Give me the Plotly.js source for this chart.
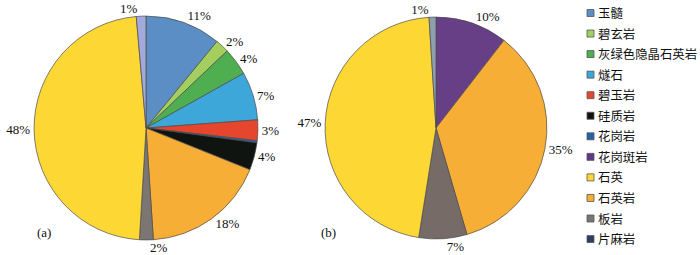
<!DOCTYPE html>
<html><head><meta charset="utf-8">
<script src="https://cdn.plot.ly/plotly-3.0.1.min.js"></script>
<style>html,body{margin:0;padding:0;background:#fff}</style>
</head><body>
<div id="chart" style="width:700px;height:255px"></div>
<script>
// Legend categories
const legendLabels = ['玉髓','碧玄岩','灰绿色隐晶石英岩','燧石','碧玉岩','硅质岩','花岗岩','花岗斑岩','石英','石英岩','板岩','片麻岩'];
const legendColors = ['#5B8EC4','#A4CF5E','#4EAE50','#3DA7D9','#E5462D','#101410','#2464A6','#5E3B86','#FDD835','#F6AE36','#7B7673','#2E3C66'];

// Pie (a), clockwise from 12 o'clock
const labelsA = ['玉髓','碧玄岩','灰绿色隐晶石英岩','燧石','碧玉岩','花岗岩','硅质岩','石英岩','板岩','石英','片麻岩'];
const valuesA = [11,2,4,7,3,0.3,4,18,2,48,1.4];
const textA   = ['11%','2%','4%','7%','3%','','4%','18%','2%','48%','1%'];
const colorsA = ['#5B8EC4','#A4CF5E','#4EAE50','#3DA7D9','#E5462D','#2464A6','#101410','#F6AE36','#7B7673','#FDD835','#A3A9DA'];

// Pie (b)
const labelsB = ['花岗斑岩','石英岩','板岩','石英','片麻岩'];
const valuesB = [10.5,35,7,46.5,1];
const textB   = ['10%','35%','7%','47%','1%'];
const colorsB = ['#663F86','#F6AE36','#776B68','#FDD835','#8E9DAF'];

const pieCommon = {
  type:'pie', sort:false, direction:'clockwise', rotation:0,
  textinfo:'text', textposition:'outside', showlegend:false, hoverinfo:'label+text',
  outsidetextfont:{family:'Liberation Serif, Times New Roman, serif', size:13, color:'#111'},
  automargin:false
};

const traces = [
  Object.assign({}, pieCommon, {
    labels:labelsA, values:valuesA, text:textA,
    marker:{colors:colorsA, line:{color:'#4a4a4a', width:0.7}},
    domain:{x:[0.0486,0.3686], y:[0.059,0.937]}
  }),
  Object.assign({}, pieCommon, {
    labels:labelsB, values:valuesB, text:textB,
    marker:{colors:colorsB, line:{color:'#4a4a4a', width:0.7}},
    domain:{x:[0.4643,0.7814], y:[0.063,0.933]}
  })
];

// Manual legend built from the legend arrays
const W = 700, H = 255;
const shapes = [], annotations = [];
const legX0 = 587, legY0 = 13, legStep = 20.55, box = 7;
legendLabels.forEach((lab, i) => {
  const cy = legY0 + i * legStep;
  shapes.push({type:'rect', xref:'paper', yref:'paper',
    x0: legX0 / W, x1: (legX0 + box) / W,
    y0: 1 - (cy + box/2) / H, y1: 1 - (cy - box/2) / H,
    fillcolor: legendColors[i], line:{color:'#555', width:0.8}});
  annotations.push({xref:'paper', yref:'paper', x:(legX0 + box + 2) / W, y: 1 - cy / H,
    xanchor:'left', yanchor:'middle', showarrow:false, text: lab,
    font:{family:'Noto Sans CJK SC, sans-serif', size:12.4, color:'#111'}});
});
annotations.push({xref:'paper', yref:'paper', x:35/W, y:1-232/H, xanchor:'left', yanchor:'middle',
  showarrow:false, text:'(a)', font:{family:'Liberation Serif, serif', size:13, color:'#111'}});
annotations.push({xref:'paper', yref:'paper', x:319/W, y:1-232/H, xanchor:'left', yanchor:'middle',
  showarrow:false, text:'(b)', font:{family:'Liberation Serif, serif', size:13, color:'#111'}});

const layout = {
  width:W, height:H, margin:{l:0,r:0,t:0,b:0},
  paper_bgcolor:'#fff', plot_bgcolor:'#fff',
  showlegend:false, shapes, annotations
};
Plotly.newPlot('chart', traces, layout, {displayModeBar:false, staticPlot:true});
</script>
</body></html>
